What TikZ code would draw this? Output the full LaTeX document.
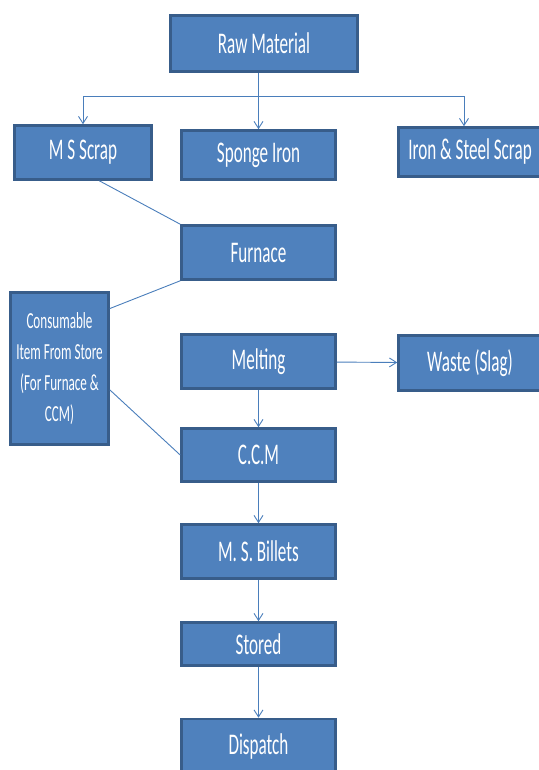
\documentclass[tikz,border=0pt]{standalone}
\usepackage{fontspec}
\usepackage{xcolor}
\usetikzlibrary{calc}
\usetikzlibrary{positioning}
\usetikzlibrary{arrows.meta}
\newfontfamily\boxfont{Carlito}[FakeStretch=0.57]
\definecolor{boxfill}{HTML}{4F81BD}
\definecolor{boxline}{HTML}{385D8A}
\definecolor{flowline}{HTML}{4A7EBB}

\begin{document}
\begin{tikzpicture}[x=1pt, y=-1pt, ->, >={Straight Barb[length=7pt, width=9pt]}, draw=flowline, line width=0.9pt]
    \tikzstyle{block}=[draw=boxline, line width=2.6pt, rectangle, fill=boxfill, text=white, inner sep=0pt, minimum width=154pt, minimum height=54pt, font=\boxfont\fontsize{30pt}{36pt}\selectfont]
    \tikzstyle{link}=[-, draw=flowline, line width=0.9pt]

    \useasboundingbox (0,0) rectangle (538,770);

    \node[block, minimum width=187pt, minimum height=56pt] (raw) at (264,43.5) {Raw Material};
    \node[block, minimum width=137pt] (msscrap) at (83,152.5) {M S Scrap};
    \node[block, minimum height=49pt] (sponge) at (258.5,155) {Sponge Iron};
    \node[block, minimum width=143pt, minimum height=49pt] (iron) at (470,152) {Iron \& Steel Scrap};
    \node[block] (furnace) at (258.5,252.5) {Furnace};
    \node[block, minimum width=98pt, minimum height=152pt, align=center,
        font=\boxfont\fontsize{23pt}{31pt}\selectfont] (consum) at (59.5,368.5) {Consumable\\Item From Store\\(For Furnace \&\\CCM)};
    \node[block] (melting) at (258.5,361.5) {Melting};
    \node[block, minimum width=143pt, minimum height=55pt] (waste) at (470,363) {Waste (Slag)};
    \node[block, minimum height=53pt] (ccm) at (258.5,455) {C.C.M};
    \node[block] (billets) at (258.5,551.5) {M. S. Billets};
    \node[block, minimum height=43pt] (stored) at (258.5,644) {Stored};
    \node[block] (dispatch) at (258.5,746) {Dispatch};

    % raw material split
    \coordinate (bus) at ($(raw.south -| sponge.north)!0.42!(sponge.north)$);
    \coordinate (irontop) at ($(iron.north)+(-6,0)$);
    \draw (raw.south -| sponge.north) -- (sponge.north);
    \draw (bus -| msscrap.north) -- (msscrap.north);
    \draw (bus -| irontop) -- (irontop);
    \draw[link] (bus -| msscrap.north) -- (bus -| irontop);

    % into the furnace
    \draw[link] (msscrap.-60) -- (furnace.north west);
    \draw[link] (consum.50) -- (furnace.south west);
    \draw[link] (consum.-23) -- (ccm.west);

    % process line
    \draw (melting) -- (waste);
    \draw (melting) -- (ccm);
    \draw (ccm) -- (billets);
    \draw (billets) -- (stored);
    \draw (stored) -- (dispatch);

\end{tikzpicture}
\end{document}
